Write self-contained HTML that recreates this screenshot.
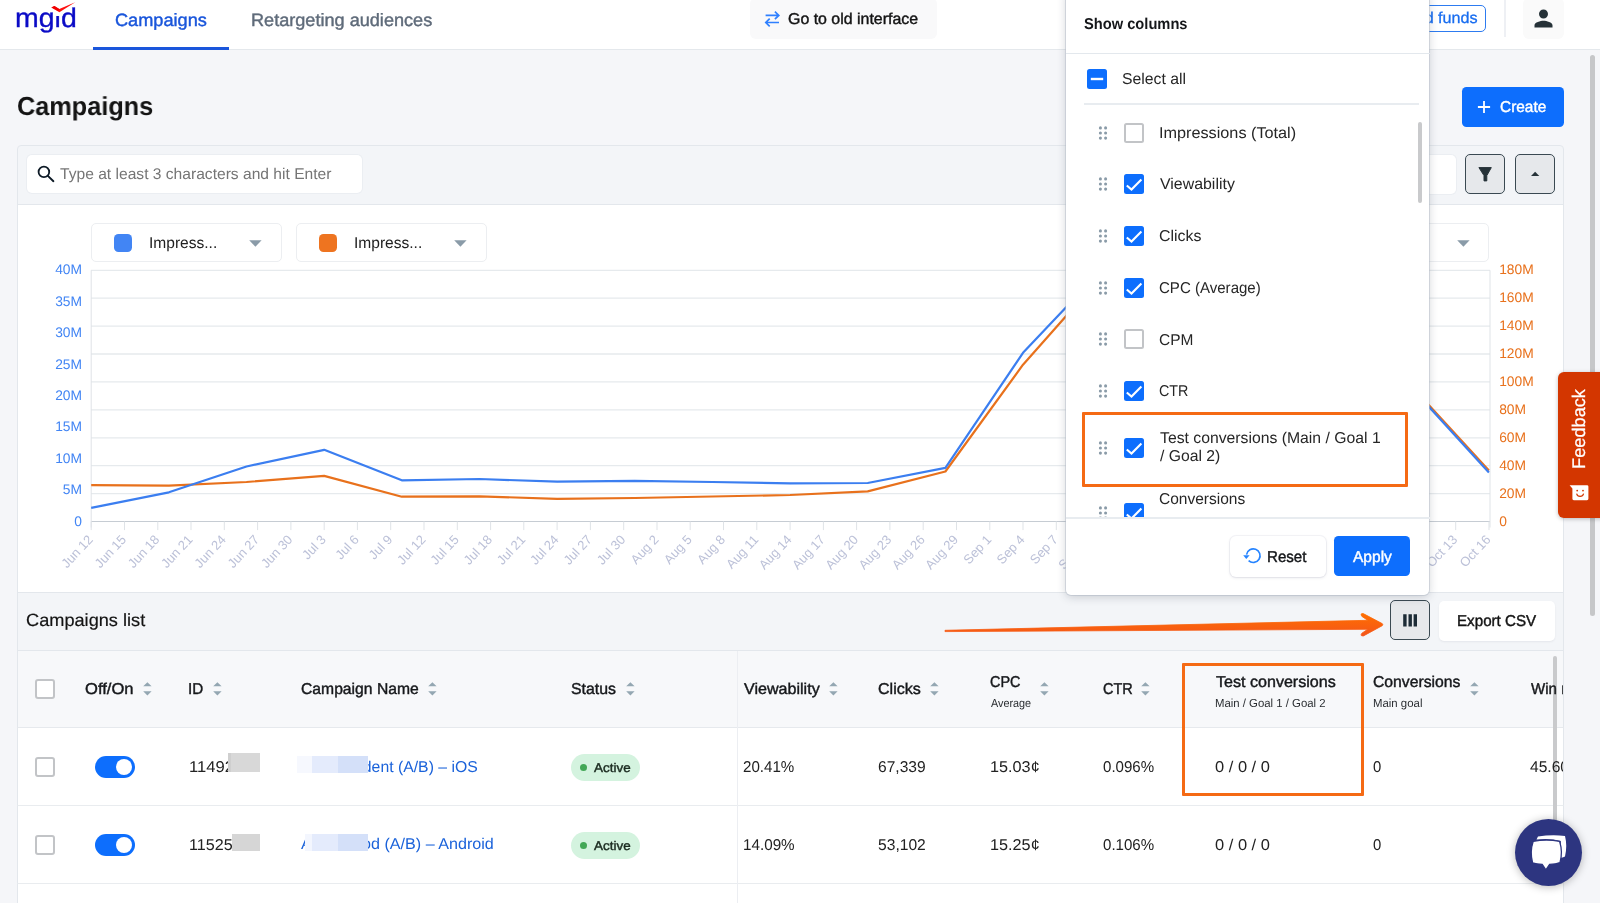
<!DOCTYPE html>
<html lang="en">
<head>
<meta charset="utf-8">
<title>Campaigns</title>
<style>
*{box-sizing:border-box;margin:0;padding:0}
html,body{width:1600px;height:903px;overflow:hidden;background:#f5f6f9;font-family:"Liberation Sans",Arial,sans-serif;color:#111;text-rendering:geometricPrecision}
.abs{position:absolute}
.tx{position:absolute;line-height:1;white-space:nowrap;transform-origin:0 0;text-rendering:geometricPrecision}
#root{position:relative;width:1600px;height:903px;overflow:hidden;will-change:transform}
#hdr{left:0;top:0;width:1600px;height:50.2px;background:#fff;border-bottom:1.4px solid #e4e8ec}
#tabline{left:93px;top:47.4px;width:136.3px;height:2.5px;background:#1a56db}
#logo{left:15px;top:1.6px;font-size:27px;line-height:32px;color:#0b0bc6;white-space:nowrap;transform-origin:0 0;transform:scaleX(1.055);-webkit-text-stroke:.35px #0b0bc6}
#oldbtn{left:750px;top:-2px;width:187px;height:41px;background:#f9f9fa;border-radius:6px}
#funds{left:1380px;top:5.3px;width:106.3px;height:26.4px;border:1px solid #2d7bf0;border-radius:5px;background:#fff}
#hdiv{left:1504px;top:0;width:2px;height:37px;background:#eef0f4}
#userbtn{left:1523.3px;top:-2px;width:40.7px;height:41px;background:#fafafa;border-radius:6px}
#create{left:1462px;top:86.9px;width:101.8px;height:39.9px;background:#0d6efd;border-radius:4.5px}
#fpanel{left:17px;top:145px;width:1547px;height:60px;background:#f3f5f8;border:1px solid #e3e7ec;border-radius:4px 4px 0 0}
#search{left:26.9px;top:154.7px;width:335.5px;height:38.6px;background:#fff;border-radius:5px;box-shadow:0 0 0 1px rgba(230,233,238,.6)}
#inp2{left:1380px;top:154.5px;width:76px;height:39px;background:#fff;border-radius:5px;box-shadow:0 0 0 1px rgba(230,233,238,.6)}
.sqbtn{width:40.3px;height:40.3px;background:#e6e8eb;border:1px solid #3a4952;border-radius:5px}
#cpanel{left:17px;top:204px;width:1547px;height:389px;background:#fff;border:1px solid #e3e7ec}
.sel{top:223.1px;height:39.3px;background:#fff;border:1px solid #eceef1;border-radius:5px}
.sel i{position:absolute;top:9.7px;width:18px;height:18px;border-radius:4.5px}
#lbar{left:17px;top:592px;width:1547px;height:59px;background:#f3f5f8;border:1px solid #e3e7ec}
#export{left:1439.3px;top:600.5px;width:116px;height:40px;background:#fff;border-radius:5px;box-shadow:0 1px 2px rgba(60,70,90,.08)}
#thead{left:17px;top:651px;width:1547px;height:77px;background:#f7f8fa;border-left:1px solid #e3e7ec;border-right:1px solid #e3e7ec;border-bottom:1px solid #e6e9ed}
.trow{left:17px;width:1547px;height:78px;background:#fff;border-left:1px solid #e3e7ec;border-right:1px solid #e3e7ec;border-bottom:1px solid #e9ecef}
#vdiv{left:736.5px;top:651px;width:1px;height:252px;background:#eceef2}
.cb{width:20px;height:20px;border:2px solid #c2c4c7;border-radius:3px;background:#fff}
.tog{left:94.7px;width:40px;height:22.2px;border-radius:11.1px;background:#0d6efd}
.tog i{position:absolute;right:3px;top:3.1px;width:16px;height:16px;border-radius:8px;background:#fff}
.badge{left:571px;width:69px;height:27px;border-radius:13.5px;background:#d4f3df}
.badge i{position:absolute;left:9px;top:10.1px;width:7.1px;height:7px;border-radius:4px;background:#43a857}
.srt{width:9px;height:14px}
.hl{border:3.6px solid #f56a14;border-radius:1px}
#pop{left:1065.7px;top:-10px;width:363.6px;height:604.6px;background:#fff;border-radius:5px;box-shadow:0 2px 10px rgba(40,50,70,.22),0 0 0 1px rgba(200,208,218,.55)}
.psep{background:#e3e8ed;height:1.5px}
.pcb{width:20px;height:20px;border-radius:2.5px}
.pcb.on{background:#0d6efd}
.pcb.off{border:2px solid #c2c4c7;background:#fff}
#plist{left:0;top:115px;width:364px;height:412.6px;overflow:hidden}
#reset{left:164px;top:546.3px;width:96.3px;height:40.4px;background:#fff;border-radius:6px;box-shadow:0 1px 3px rgba(60,70,90,.13),0 0 0 1px rgba(242,243,246,.8)}
#apply{left:268.6px;top:546.4px;width:75.6px;height:39.8px;background:#0d6efd;border-radius:4.5px}
</style>
</head>
<body>
<div id="root">
  <div id="hdr" class="abs"></div>
  <div id="logo" class="abs">mgid</div>
  <div class="abs" style="left:55px;top:4px;width:6px;height:11.6px;background:#fff"></div>
  <svg class="abs" style="left:48px;top:0" width="32" height="16" viewBox="0 0 32 16"><path d="M3.4 7.4 L6.4 6.1 L11.3 9.0 L27.2 2.3 L11.4 12.2 Z" fill="#ff1010"/><path d="M3.4 7.4 L6.4 6.1 L11.6 9.2 L10.2 10.9 Z" fill="#f00000"/></svg>
  <div id="tabline" class="abs"></div>
  <div id="oldbtn" class="abs"><svg class="abs" style="left:14px;top:11px" width="18" height="20" viewBox="0 0 18 20"><path d="M1.6 6.4 H14.6 M10.9 2.6 L14.8 6.4 L10.9 10.2 M15 13.5 H2 M5.7 9.7 L1.8 13.5 L5.7 17.3" fill="none" stroke="#2f80ff" stroke-width="1.7"/></svg></div>
  <div id="funds" class="abs"><div class="tx" style="right:8px;top:4.6px;font-size:15.7px;color:#1a6ef0;transform-origin:100% 0;transform:scaleX(1.03);-webkit-text-stroke:.3px #1a6ef0">Add funds</div></div>
  <div id="hdiv" class="abs"></div>
  <div id="userbtn" class="abs"><svg class="abs" style="left:6.95px;top:6.9px" width="27" height="27" viewBox="0 0 24 24"><path d="M12 12c2.21 0 4-1.79 4-4s-1.79-4-4-4-4 1.79-4 4 1.79 4 4 4zm0 2c-2.67 0-8 1.34-8 4v2h16v-2c0-2.660-5.330-4-8-4z" fill="#263238"/></svg></div>

  <div id="create" class="abs"><svg class="abs" style="left:15px;top:12.85px" width="14" height="14" viewBox="0 0 14 14"><path d="M7 0.9 V13.1 M0.9 7 H13.1" stroke="#fff" stroke-width="1.8" fill="none"/></svg></div>

  <div id="fpanel" class="abs"></div>
  <div id="search" class="abs"><svg class="abs" style="left:9.1px;top:9.3px" width="20" height="20" viewBox="0 0 20 20"><circle cx="7.9" cy="7.9" r="5.3" fill="none" stroke="#0d1a26" stroke-width="1.8"/><path d="M11.9 11.9 L17.4 17.2" stroke="#0d1a26" stroke-width="1.9" stroke-linecap="round"/></svg></div>
  <div id="inp2" class="abs"></div>
  <div class="abs sqbtn" style="left:1465px;top:154px"><svg class="abs" style="left:0;top:0" width="38" height="38" viewBox="0 0 38 38"><path d="M12.9 12.6 H25.3 L20.8 20.6 V25.9 H18.0 V20.6 Z" fill="#263238" stroke="#263238" stroke-width="1" stroke-linejoin="round"/></svg></div>
  <div class="abs sqbtn" style="left:1514.6px;top:154px"><svg class="abs" style="left:0;top:0" width="38" height="38" viewBox="0 0 38 38"><path d="M15 20.9 L19.15 16.8 L23.3 20.9 Z" fill="#263238"/></svg></div>

  <div id="cpanel" class="abs"></div>
<svg id="chart" class="abs" style="left:0;top:0" width="1600" height="903" viewBox="0 0 1600 903" font-family="Liberation Sans, Arial, sans-serif">
<line x1="91" x2="1490" y1="270.3" y2="270.3" stroke="#e6eaed" stroke-width="1.3"/>
<line x1="91" x2="1490" y1="298.2" y2="298.2" stroke="#e6eaed" stroke-width="1.3"/>
<line x1="91" x2="1490" y1="326.1" y2="326.1" stroke="#e6eaed" stroke-width="1.3"/>
<line x1="91" x2="1490" y1="354.0" y2="354.0" stroke="#e6eaed" stroke-width="1.3"/>
<line x1="91" x2="1490" y1="381.9" y2="381.9" stroke="#e6eaed" stroke-width="1.3"/>
<line x1="91" x2="1490" y1="409.9" y2="409.9" stroke="#e6eaed" stroke-width="1.3"/>
<line x1="91" x2="1490" y1="437.8" y2="437.8" stroke="#e6eaed" stroke-width="1.3"/>
<line x1="91" x2="1490" y1="465.7" y2="465.7" stroke="#e6eaed" stroke-width="1.3"/>
<line x1="91" x2="1490" y1="493.6" y2="493.6" stroke="#e6eaed" stroke-width="1.3"/>
<line x1="91" x2="1490" y1="521.5" y2="521.5" stroke="#c6ccd3" stroke-width="1"/>
<line x1="91.2" x2="91.2" y1="270.3" y2="527.5" stroke="#dfe3e7" stroke-width="1"/>
<line x1="1490" x2="1490" y1="270.3" y2="527.5" stroke="#dfe3e7" stroke-width="1"/>
<line x1="91.2" x2="91.2" y1="521.5" y2="530.1" stroke="#dfe3e7" stroke-width="1"/>
<text x="93.6" y="540.1" text-anchor="end" font-size="13" fill="#bcc1d8" transform="rotate(-47 93.6 540.1)">Jun 12</text>
<line x1="124.5" x2="124.5" y1="521.5" y2="530.1" stroke="#dfe3e7" stroke-width="1"/>
<text x="126.9" y="540.1" text-anchor="end" font-size="13" fill="#bcc1d8" transform="rotate(-47 126.9 540.1)">Jun 15</text>
<line x1="157.8" x2="157.8" y1="521.5" y2="530.1" stroke="#dfe3e7" stroke-width="1"/>
<text x="160.2" y="540.1" text-anchor="end" font-size="13" fill="#bcc1d8" transform="rotate(-47 160.2 540.1)">Jun 18</text>
<line x1="191.0" x2="191.0" y1="521.5" y2="530.1" stroke="#dfe3e7" stroke-width="1"/>
<text x="193.4" y="540.1" text-anchor="end" font-size="13" fill="#bcc1d8" transform="rotate(-47 193.4 540.1)">Jun 21</text>
<line x1="224.3" x2="224.3" y1="521.5" y2="530.1" stroke="#dfe3e7" stroke-width="1"/>
<text x="226.7" y="540.1" text-anchor="end" font-size="13" fill="#bcc1d8" transform="rotate(-47 226.7 540.1)">Jun 24</text>
<line x1="257.6" x2="257.6" y1="521.5" y2="530.1" stroke="#dfe3e7" stroke-width="1"/>
<text x="260.0" y="540.1" text-anchor="end" font-size="13" fill="#bcc1d8" transform="rotate(-47 260.0 540.1)">Jun 27</text>
<line x1="290.9" x2="290.9" y1="521.5" y2="530.1" stroke="#dfe3e7" stroke-width="1"/>
<text x="293.3" y="540.1" text-anchor="end" font-size="13" fill="#bcc1d8" transform="rotate(-47 293.3 540.1)">Jun 30</text>
<line x1="324.2" x2="324.2" y1="521.5" y2="530.1" stroke="#dfe3e7" stroke-width="1"/>
<text x="326.6" y="540.1" text-anchor="end" font-size="13" fill="#bcc1d8" transform="rotate(-47 326.6 540.1)">Jul 3</text>
<line x1="357.4" x2="357.4" y1="521.5" y2="530.1" stroke="#dfe3e7" stroke-width="1"/>
<text x="359.8" y="540.1" text-anchor="end" font-size="13" fill="#bcc1d8" transform="rotate(-47 359.8 540.1)">Jul 6</text>
<line x1="390.7" x2="390.7" y1="521.5" y2="530.1" stroke="#dfe3e7" stroke-width="1"/>
<text x="393.1" y="540.1" text-anchor="end" font-size="13" fill="#bcc1d8" transform="rotate(-47 393.1 540.1)">Jul 9</text>
<line x1="424.0" x2="424.0" y1="521.5" y2="530.1" stroke="#dfe3e7" stroke-width="1"/>
<text x="426.4" y="540.1" text-anchor="end" font-size="13" fill="#bcc1d8" transform="rotate(-47 426.4 540.1)">Jul 12</text>
<line x1="457.3" x2="457.3" y1="521.5" y2="530.1" stroke="#dfe3e7" stroke-width="1"/>
<text x="459.7" y="540.1" text-anchor="end" font-size="13" fill="#bcc1d8" transform="rotate(-47 459.7 540.1)">Jul 15</text>
<line x1="490.6" x2="490.6" y1="521.5" y2="530.1" stroke="#dfe3e7" stroke-width="1"/>
<text x="493.0" y="540.1" text-anchor="end" font-size="13" fill="#bcc1d8" transform="rotate(-47 493.0 540.1)">Jul 18</text>
<line x1="523.8" x2="523.8" y1="521.5" y2="530.1" stroke="#dfe3e7" stroke-width="1"/>
<text x="526.2" y="540.1" text-anchor="end" font-size="13" fill="#bcc1d8" transform="rotate(-47 526.2 540.1)">Jul 21</text>
<line x1="557.1" x2="557.1" y1="521.5" y2="530.1" stroke="#dfe3e7" stroke-width="1"/>
<text x="559.5" y="540.1" text-anchor="end" font-size="13" fill="#bcc1d8" transform="rotate(-47 559.5 540.1)">Jul 24</text>
<line x1="590.4" x2="590.4" y1="521.5" y2="530.1" stroke="#dfe3e7" stroke-width="1"/>
<text x="592.8" y="540.1" text-anchor="end" font-size="13" fill="#bcc1d8" transform="rotate(-47 592.8 540.1)">Jul 27</text>
<line x1="623.7" x2="623.7" y1="521.5" y2="530.1" stroke="#dfe3e7" stroke-width="1"/>
<text x="626.1" y="540.1" text-anchor="end" font-size="13" fill="#bcc1d8" transform="rotate(-47 626.1 540.1)">Jul 30</text>
<line x1="657.0" x2="657.0" y1="521.5" y2="530.1" stroke="#dfe3e7" stroke-width="1"/>
<text x="659.4" y="540.1" text-anchor="end" font-size="13" fill="#bcc1d8" transform="rotate(-47 659.4 540.1)">Aug 2</text>
<line x1="690.2" x2="690.2" y1="521.5" y2="530.1" stroke="#dfe3e7" stroke-width="1"/>
<text x="692.6" y="540.1" text-anchor="end" font-size="13" fill="#bcc1d8" transform="rotate(-47 692.6 540.1)">Aug 5</text>
<line x1="723.5" x2="723.5" y1="521.5" y2="530.1" stroke="#dfe3e7" stroke-width="1"/>
<text x="725.9" y="540.1" text-anchor="end" font-size="13" fill="#bcc1d8" transform="rotate(-47 725.9 540.1)">Aug 8</text>
<line x1="756.8" x2="756.8" y1="521.5" y2="530.1" stroke="#dfe3e7" stroke-width="1"/>
<text x="759.2" y="540.1" text-anchor="end" font-size="13" fill="#bcc1d8" transform="rotate(-47 759.2 540.1)">Aug 11</text>
<line x1="790.1" x2="790.1" y1="521.5" y2="530.1" stroke="#dfe3e7" stroke-width="1"/>
<text x="792.5" y="540.1" text-anchor="end" font-size="13" fill="#bcc1d8" transform="rotate(-47 792.5 540.1)">Aug 14</text>
<line x1="823.4" x2="823.4" y1="521.5" y2="530.1" stroke="#dfe3e7" stroke-width="1"/>
<text x="825.8" y="540.1" text-anchor="end" font-size="13" fill="#bcc1d8" transform="rotate(-47 825.8 540.1)">Aug 17</text>
<line x1="856.6" x2="856.6" y1="521.5" y2="530.1" stroke="#dfe3e7" stroke-width="1"/>
<text x="859.0" y="540.1" text-anchor="end" font-size="13" fill="#bcc1d8" transform="rotate(-47 859.0 540.1)">Aug 20</text>
<line x1="889.9" x2="889.9" y1="521.5" y2="530.1" stroke="#dfe3e7" stroke-width="1"/>
<text x="892.3" y="540.1" text-anchor="end" font-size="13" fill="#bcc1d8" transform="rotate(-47 892.3 540.1)">Aug 23</text>
<line x1="923.2" x2="923.2" y1="521.5" y2="530.1" stroke="#dfe3e7" stroke-width="1"/>
<text x="925.6" y="540.1" text-anchor="end" font-size="13" fill="#bcc1d8" transform="rotate(-47 925.6 540.1)">Aug 26</text>
<line x1="956.5" x2="956.5" y1="521.5" y2="530.1" stroke="#dfe3e7" stroke-width="1"/>
<text x="958.9" y="540.1" text-anchor="end" font-size="13" fill="#bcc1d8" transform="rotate(-47 958.9 540.1)">Aug 29</text>
<line x1="989.8" x2="989.8" y1="521.5" y2="530.1" stroke="#dfe3e7" stroke-width="1"/>
<text x="992.2" y="540.1" text-anchor="end" font-size="13" fill="#bcc1d8" transform="rotate(-47 992.2 540.1)">Sep 1</text>
<line x1="1023.0" x2="1023.0" y1="521.5" y2="530.1" stroke="#dfe3e7" stroke-width="1"/>
<text x="1025.4" y="540.1" text-anchor="end" font-size="13" fill="#bcc1d8" transform="rotate(-47 1025.4 540.1)">Sep 4</text>
<line x1="1056.3" x2="1056.3" y1="521.5" y2="530.1" stroke="#dfe3e7" stroke-width="1"/>
<text x="1058.7" y="540.1" text-anchor="end" font-size="13" fill="#bcc1d8" transform="rotate(-47 1058.7 540.1)">Sep 7</text>
<line x1="1089.6" x2="1089.6" y1="521.5" y2="530.1" stroke="#dfe3e7" stroke-width="1"/>
<text x="1092.0" y="540.1" text-anchor="end" font-size="13" fill="#bcc1d8" transform="rotate(-47 1092.0 540.1)">Sep 10</text>
<line x1="1122.9" x2="1122.9" y1="521.5" y2="530.1" stroke="#dfe3e7" stroke-width="1"/>
<text x="1125.3" y="540.1" text-anchor="end" font-size="13" fill="#bcc1d8" transform="rotate(-47 1125.3 540.1)">Sep 13</text>
<line x1="1156.2" x2="1156.2" y1="521.5" y2="530.1" stroke="#dfe3e7" stroke-width="1"/>
<text x="1158.6" y="540.1" text-anchor="end" font-size="13" fill="#bcc1d8" transform="rotate(-47 1158.6 540.1)">Sep 16</text>
<line x1="1189.4" x2="1189.4" y1="521.5" y2="530.1" stroke="#dfe3e7" stroke-width="1"/>
<text x="1191.8" y="540.1" text-anchor="end" font-size="13" fill="#bcc1d8" transform="rotate(-47 1191.8 540.1)">Sep 19</text>
<line x1="1222.7" x2="1222.7" y1="521.5" y2="530.1" stroke="#dfe3e7" stroke-width="1"/>
<text x="1225.1" y="540.1" text-anchor="end" font-size="13" fill="#bcc1d8" transform="rotate(-47 1225.1 540.1)">Sep 22</text>
<line x1="1256.0" x2="1256.0" y1="521.5" y2="530.1" stroke="#dfe3e7" stroke-width="1"/>
<text x="1258.4" y="540.1" text-anchor="end" font-size="13" fill="#bcc1d8" transform="rotate(-47 1258.4 540.1)">Sep 25</text>
<line x1="1289.3" x2="1289.3" y1="521.5" y2="530.1" stroke="#dfe3e7" stroke-width="1"/>
<text x="1291.7" y="540.1" text-anchor="end" font-size="13" fill="#bcc1d8" transform="rotate(-47 1291.7 540.1)">Sep 28</text>
<line x1="1322.6" x2="1322.6" y1="521.5" y2="530.1" stroke="#dfe3e7" stroke-width="1"/>
<text x="1325.0" y="540.1" text-anchor="end" font-size="13" fill="#bcc1d8" transform="rotate(-47 1325.0 540.1)">Oct 1</text>
<line x1="1355.8" x2="1355.8" y1="521.5" y2="530.1" stroke="#dfe3e7" stroke-width="1"/>
<text x="1358.2" y="540.1" text-anchor="end" font-size="13" fill="#bcc1d8" transform="rotate(-47 1358.2 540.1)">Oct 4</text>
<line x1="1389.1" x2="1389.1" y1="521.5" y2="530.1" stroke="#dfe3e7" stroke-width="1"/>
<text x="1391.5" y="540.1" text-anchor="end" font-size="13" fill="#bcc1d8" transform="rotate(-47 1391.5 540.1)">Oct 7</text>
<line x1="1422.4" x2="1422.4" y1="521.5" y2="530.1" stroke="#dfe3e7" stroke-width="1"/>
<text x="1424.8" y="540.1" text-anchor="end" font-size="13" fill="#bcc1d8" transform="rotate(-47 1424.8 540.1)">Oct 10</text>
<line x1="1455.7" x2="1455.7" y1="521.5" y2="530.1" stroke="#dfe3e7" stroke-width="1"/>
<text x="1458.1" y="540.1" text-anchor="end" font-size="13" fill="#bcc1d8" transform="rotate(-47 1458.1 540.1)">Oct 13</text>
<line x1="1489.0" x2="1489.0" y1="521.5" y2="530.1" stroke="#dfe3e7" stroke-width="1"/>
<text x="1491.4" y="540.1" text-anchor="end" font-size="13" fill="#bcc1d8" transform="rotate(-47 1491.4 540.1)">Oct 16</text>
<text x="82" y="274.3" text-anchor="end" font-size="13.8" fill="#4285f4">40M</text>
<text x="82" y="305.7" text-anchor="end" font-size="13.8" fill="#4285f4">35M</text>
<text x="82" y="337.1" text-anchor="end" font-size="13.8" fill="#4285f4">30M</text>
<text x="82" y="368.5" text-anchor="end" font-size="13.8" fill="#4285f4">25M</text>
<text x="82" y="399.9" text-anchor="end" font-size="13.8" fill="#4285f4">20M</text>
<text x="82" y="431.3" text-anchor="end" font-size="13.8" fill="#4285f4">15M</text>
<text x="82" y="462.7" text-anchor="end" font-size="13.8" fill="#4285f4">10M</text>
<text x="82" y="494.1" text-anchor="end" font-size="13.8" fill="#4285f4">5M</text>
<text x="82" y="525.5" text-anchor="end" font-size="13.8" fill="#4285f4">0</text>
<text x="1499.2" y="274.3" font-size="13.8" fill="#e8711c">180M</text>
<text x="1499.2" y="302.2" font-size="13.8" fill="#e8711c">160M</text>
<text x="1499.2" y="330.1" font-size="13.8" fill="#e8711c">140M</text>
<text x="1499.2" y="358.0" font-size="13.8" fill="#e8711c">120M</text>
<text x="1499.2" y="385.9" font-size="13.8" fill="#e8711c">100M</text>
<text x="1499.2" y="413.9" font-size="13.8" fill="#e8711c">80M</text>
<text x="1499.2" y="441.8" font-size="13.8" fill="#e8711c">60M</text>
<text x="1499.2" y="469.7" font-size="13.8" fill="#e8711c">40M</text>
<text x="1499.2" y="497.6" font-size="13.8" fill="#e8711c">20M</text>
<text x="1499.2" y="525.5" font-size="13.8" fill="#e8711c">0</text>
<polyline points="91.2,485.2 168.9,485.6 246.5,482.0 324.2,475.9 401.8,496.7 479.4,496.3 557.1,498.9 634.8,498.0 712.4,496.5 790.1,495.0 867.7,491.4 945.4,471.5 1023.0,364.7 1100.7,276.9 1178.3,305.0 1256.0,333.0 1333.6,356.0 1411.3,386.0 1488.9,470.5" fill="none" stroke="#e8711c" stroke-width="2.2" stroke-linejoin="round"/>
<polyline points="91.2,507.8 168.9,492.3 246.5,466.5 324.2,449.8 401.8,480.3 479.4,479.0 557.1,481.7 634.8,480.8 712.4,482.0 790.1,483.4 867.7,483.0 945.4,467.9 1023.0,352.8 1100.7,270.8 1178.3,300.0 1256.0,330.0 1333.6,355.0 1411.3,387.5 1488.9,472.5" fill="none" stroke="#3b7ef0" stroke-width="2.2" stroke-linejoin="round"/>
</svg>
  <div class="abs sel" style="left:91.3px;width:190.4px"><i style="left:21.4px;background:#4285f4"></i><svg style="position:absolute;left:156.7px;top:16px" width="13" height="7" viewBox="0 0 13 7"><path d="M0.2 0.2 H12.6 L6.4 6.8 Z" fill="#8a9ba8"/></svg></div>
  <div class="abs sel" style="left:296.3px;width:190.4px"><i style="left:21.4px;background:#ee7420"></i><svg style="position:absolute;left:156.7px;top:16px" width="13" height="7" viewBox="0 0 13 7"><path d="M0.2 0.2 H12.6 L6.4 6.8 Z" fill="#8a9ba8"/></svg></div>
  <div class="abs sel" style="left:1299px;width:190.4px"><svg style="position:absolute;left:156.7px;top:16px" width="13" height="7" viewBox="0 0 13 7"><path d="M0.2 0.2 H12.6 L6.4 6.8 Z" fill="#8a9ba8"/></svg></div>

  <div id="lbar" class="abs"></div>
  <div class="abs sqbtn" style="left:1389.8px;top:600.2px"><svg class="abs" style="left:0;top:0" width="38" height="38" viewBox="0 0 38 38"><path d="M12.2 13.2h3.4v12.4h-3.4z M17.5 13.2h3.4v12.4h-3.4z M22.6 13.2h3.4v12.4h-3.4z" fill="#1c2b36"/></svg></div>
  <div id="export" class="abs"></div>

  <div id="thead" class="abs"></div>
  <div class="abs trow" style="top:728px"></div>
  <div class="abs trow" style="top:806px"></div>
  <div class="abs trow" style="top:884px"></div>
  <div id="vdiv" class="abs"></div>
  <div class="abs cb" style="left:35px;top:679.2px"></div>
  <div class="abs cb" style="left:35px;top:757px"></div>
  <div class="abs cb" style="left:35px;top:834.8px"></div>
  <svg class="abs srt" style="left:142.6px;top:682.3px" viewBox="0 0 9 14"><path d="M0.2 4.3 L4.4 0.2 L8.6 4.3Z M0.2 9.3 L4.4 13.4 L8.6 9.3Z" fill="#94a7b2"/></svg>
  <svg class="abs srt" style="left:212.5px;top:682.3px" viewBox="0 0 9 14"><path d="M0.2 4.3 L4.4 0.2 L8.6 4.3Z M0.2 9.3 L4.4 13.4 L8.6 9.3Z" fill="#94a7b2"/></svg>
  <svg class="abs srt" style="left:427.8px;top:682.3px" viewBox="0 0 9 14"><path d="M0.2 4.3 L4.4 0.2 L8.6 4.3Z M0.2 9.3 L4.4 13.4 L8.6 9.3Z" fill="#94a7b2"/></svg>
  <svg class="abs srt" style="left:625.6px;top:682.3px" viewBox="0 0 9 14"><path d="M0.2 4.3 L4.4 0.2 L8.6 4.3Z M0.2 9.3 L4.4 13.4 L8.6 9.3Z" fill="#94a7b2"/></svg>
  <svg class="abs srt" style="left:828.8px;top:682.3px" viewBox="0 0 9 14"><path d="M0.2 4.3 L4.4 0.2 L8.6 4.3Z M0.2 9.3 L4.4 13.4 L8.6 9.3Z" fill="#94a7b2"/></svg>
  <svg class="abs srt" style="left:930px;top:682.3px" viewBox="0 0 9 14"><path d="M0.2 4.3 L4.4 0.2 L8.6 4.3Z M0.2 9.3 L4.4 13.4 L8.6 9.3Z" fill="#94a7b2"/></svg>
  <svg class="abs srt" style="left:1040.1px;top:682.3px" viewBox="0 0 9 14"><path d="M0.2 4.3 L4.4 0.2 L8.6 4.3Z M0.2 9.3 L4.4 13.4 L8.6 9.3Z" fill="#94a7b2"/></svg>
  <svg class="abs srt" style="left:1141px;top:682.3px" viewBox="0 0 9 14"><path d="M0.2 4.3 L4.4 0.2 L8.6 4.3Z M0.2 9.3 L4.4 13.4 L8.6 9.3Z" fill="#94a7b2"/></svg>
  <svg class="abs srt" style="left:1469.9px;top:682.3px" viewBox="0 0 9 14"><path d="M0.2 4.3 L4.4 0.2 L8.6 4.3Z M0.2 9.3 L4.4 13.4 L8.6 9.3Z" fill="#94a7b2"/></svg>
  <div class="abs tog" style="top:755.7px"><i></i></div>
  <div class="abs tog" style="top:833.5px"><i></i></div>
  <div class="abs badge" style="top:753.9px"><i></i></div>
  <div class="abs badge" style="top:831.9px"><i></i></div>
  <div class="abs" style="left:1553.1px;top:655.5px;width:4px;height:190px;border-radius:2px;background:#c9cacc"></div>
<div class="tx" style="left:115.38px;top:12.00px;font-size:17.8px;color:#1a56db;transform:scaleX(1.0215);-webkit-text-stroke:0.42px #1a56db">Campaigns</div>
<div class="tx" style="left:251.03px;top:12.00px;font-size:17.8px;color:#5f6b7a;transform:scaleX(1.0184);-webkit-text-stroke:0.42px #5f6b7a">Retargeting audiences</div>
<div class="tx" style="left:788.29px;top:12.00px;font-size:15.7px;color:#141414;transform:scaleX(1.0146);-webkit-text-stroke:0.42px #141414">Go to old interface</div>
<div class="tx" style="left:17.12px;top:93.00px;font-size:26px;color:#141414;transform:scaleX(0.9717);font-weight:bold">Campaigns</div>
<div class="tx" style="left:1499.72px;top:100.00px;font-size:15.7px;color:#fff;transform:scaleX(0.9821);-webkit-text-stroke:0.42px #fff">Create</div>
<div class="tx" style="left:59.56px;top:167.00px;font-size:15.5px;color:#757575;transform:scaleX(1.0067)">Type at least 3 characters and hit Enter</div>
<div class="tx" style="left:148.86px;top:236.00px;font-size:15.7px;color:#212121;transform:scaleX(0.9909)">Impress...</div>
<div class="tx" style="left:353.86px;top:236.00px;font-size:15.7px;color:#212121;transform:scaleX(0.9909)">Impress...</div>
<div class="tx" style="left:25.78px;top:612.00px;font-size:17.7px;color:#141414;transform:scaleX(1.0277);-webkit-text-stroke:0.2px #141414">Campaigns list</div>
<div class="tx" style="left:1457.18px;top:614.00px;font-size:15.7px;color:#141414;transform:scaleX(0.9665);-webkit-text-stroke:0.42px #141414">Export CSV</div>
<div class="tx" style="left:85.14px;top:682.00px;font-size:15.7px;color:#16181b;transform:scaleX(1.0557);-webkit-text-stroke:0.42px #16181b">Off/On</div>
<div class="tx" style="left:188.38px;top:682.00px;font-size:15.7px;color:#16181b;transform:scaleX(0.9720);-webkit-text-stroke:0.42px #16181b">ID</div>
<div class="tx" style="left:301.11px;top:682.00px;font-size:15.7px;color:#16181b;transform:scaleX(1.0003);-webkit-text-stroke:0.42px #16181b">Campaign Name</div>
<div class="tx" style="left:571.05px;top:682.00px;font-size:15.7px;color:#16181b;transform:scaleX(1.0111);-webkit-text-stroke:0.42px #16181b">Status</div>
<div class="tx" style="left:743.60px;top:682.00px;font-size:15.7px;color:#16181b;transform:scaleX(1.0250);-webkit-text-stroke:0.42px #16181b">Viewability</div>
<div class="tx" style="left:878.00px;top:682.00px;font-size:15.7px;color:#16181b;transform:scaleX(1.0236);-webkit-text-stroke:0.42px #16181b">Clicks</div>
<div class="tx" style="left:990.25px;top:675.00px;font-size:15.7px;color:#16181b;transform:scaleX(0.9211);-webkit-text-stroke:0.42px #16181b">CPC</div>
<div class="tx" style="left:990.59px;top:698.00px;font-size:11.6px;color:#2a2d31;transform:scaleX(0.9323)">Average</div>
<div class="tx" style="left:1102.75px;top:682.00px;font-size:15.7px;color:#16181b;transform:scaleX(0.9224);-webkit-text-stroke:0.42px #16181b">CTR</div>
<div class="tx" style="left:1215.66px;top:675.00px;font-size:15.7px;color:#16181b;transform:scaleX(1.0250);-webkit-text-stroke:0.42px #16181b">Test conversions</div>
<div class="tx" style="left:1214.88px;top:698.00px;font-size:11.6px;color:#2a2d31;transform:scaleX(0.9803)">Main / Goal 1 / Goal 2</div>
<div class="tx" style="left:1373.01px;top:675.00px;font-size:15.7px;color:#16181b;transform:scaleX(1.0028);-webkit-text-stroke:0.42px #16181b">Conversions</div>
<div class="tx" style="left:1372.68px;top:698.00px;font-size:11.6px;color:#2a2d31;transform:scaleX(0.9829)">Main goal</div>
<div class="abs" style="left:1530.70px;top:680.00px;width:32.6px;height:21.7px;overflow:hidden"><div class="tx" style="left:0;top:2px;font-size:15.7px;color:#16181b;transform:scaleX(0.9611);-webkit-text-stroke:0.42px #16181b">Win rate</div></div>
<div class="tx" style="left:188.79px;top:760.00px;font-size:15.7px;color:#222;transform:scaleX(1.0580)">11492</div>
<div class="tx" style="left:742.93px;top:760.00px;font-size:15.7px;color:#222;transform:scaleX(0.9643)">20.41%</div>
<div class="tx" style="left:877.78px;top:760.00px;font-size:15.7px;color:#222;transform:scaleX(0.9934)">67,339</div>
<div class="tx" style="left:989.92px;top:760.00px;font-size:15.7px;color:#222;transform:scaleX(1.0349)">15.03¢</div>
<div class="tx" style="left:1102.70px;top:760.00px;font-size:15.7px;color:#222;transform:scaleX(0.9611)">0.096%</div>
<div class="tx" style="left:1215.25px;top:760.00px;font-size:15.7px;color:#222;transform:scaleX(1.0498)">0 / 0 / 0</div>
<div class="tx" style="left:1372.81px;top:760.00px;font-size:15.7px;color:#222;transform:scaleX(0.9487)">0</div>
<div class="tx" style="left:188.82px;top:838.00px;font-size:15.7px;color:#222;transform:scaleX(1.0280)">11525</div>
<div class="tx" style="left:742.58px;top:838.00px;font-size:15.7px;color:#222;transform:scaleX(0.9709)">14.09%</div>
<div class="tx" style="left:877.68px;top:838.00px;font-size:15.7px;color:#222;transform:scaleX(0.9959)">53,102</div>
<div class="tx" style="left:989.92px;top:838.00px;font-size:15.7px;color:#222;transform:scaleX(1.0349)">15.25¢</div>
<div class="tx" style="left:1102.70px;top:838.00px;font-size:15.7px;color:#222;transform:scaleX(0.9611)">0.106%</div>
<div class="tx" style="left:1215.25px;top:838.00px;font-size:15.7px;color:#222;transform:scaleX(1.0498)">0 / 0 / 0</div>
<div class="tx" style="left:1372.81px;top:838.00px;font-size:15.7px;color:#222;transform:scaleX(0.9487)">0</div>
<div class="abs" style="left:1530.28px;top:758.00px;width:32.6px;height:21.7px;overflow:hidden"><div class="tx" style="left:0;top:2px;font-size:15.7px;color:#222;transform:scaleX(0.9940)">45.60%</div></div>
<div class="tx" style="left:332.58px;top:760.00px;font-size:15.7px;color:#1a62da;transform:scaleX(1.0063)">Accident (A/B) – iOS</div>
<div class="tx" style="left:301.48px;top:837.00px;font-size:15.7px;color:#1a62da;transform:scaleX(1.0285)">Art Method (A/B) – Android</div>
<div class="tx" style="left:594.10px;top:762.00px;font-size:12.6px;color:#1b2b20;transform:scaleX(1.0676);-webkit-text-stroke:0.42px #1b2b20">Active</div>
<div class="tx" style="left:594.10px;top:840.00px;font-size:12.6px;color:#1b2b20;transform:scaleX(1.0676);-webkit-text-stroke:0.42px #1b2b20">Active</div>

  <div class="abs" style="left:228.1px;top:753.2px;width:31.7px;height:19.2px;background:linear-gradient(90deg,#cfcfcf 0 3.5px,#d8d8d8 3.5px)"></div>
  <div class="abs" style="left:232px;top:834.1px;width:27.8px;height:16.7px;background:#d6d6d6"></div>
  <div class="abs" style="left:297px;top:756.2px;width:70.8px;height:16.6px;background:linear-gradient(90deg,#f6f8fe 0 15px,#e4ebfc 15px 40.8px,#d4e0f9 40.8px)"></div>
  <div class="abs" style="left:304.8px;top:834px;width:63px;height:17px;background:linear-gradient(90deg,#f3f6fe 0 7px,#e4ebfc 7px 33.1px,#d4e0f9 33.1px)"></div>

  <div class="abs hl" style="left:1181.8px;top:662.8px;width:182px;height:133.6px"></div>

  <div id="pop" class="abs">
    <div class="abs psep" style="left:0;top:62.5px;width:364px"></div>
    <div class="abs pcb on" style="left:21.8px;top:78.8px"><svg width="20" height="20" viewBox="0 0 20 20"><path d="M3.8 10 H16.2" stroke="#fff" stroke-width="2.4" fill="none"/></svg></div>
    <div class="abs psep" style="left:18px;top:113.4px;width:335px;background:#e8ecf0"></div>
    <div id="plist" class="abs">
      <svg class="abs" style="left:32.3px;top:19.7px" width="10" height="16" viewBox="0 0 10 16"><circle cx="2.4" cy="2.9" r="1.55" fill="#8a9ba8"/><circle cx="2.4" cy="8" r="1.55" fill="#8a9ba8"/><circle cx="2.4" cy="13.1" r="1.55" fill="#8a9ba8"/><circle cx="7.6" cy="2.9" r="1.55" fill="#8a9ba8"/><circle cx="7.6" cy="8" r="1.55" fill="#8a9ba8"/><circle cx="7.6" cy="13.1" r="1.55" fill="#8a9ba8"/></svg><div class="abs pcb off" style="left:58.7px;top:17.7px"></div>
      <svg class="abs" style="left:32.3px;top:71.2px" width="10" height="16" viewBox="0 0 10 16"><circle cx="2.4" cy="2.9" r="1.55" fill="#8a9ba8"/><circle cx="2.4" cy="8" r="1.55" fill="#8a9ba8"/><circle cx="2.4" cy="13.1" r="1.55" fill="#8a9ba8"/><circle cx="7.6" cy="2.9" r="1.55" fill="#8a9ba8"/><circle cx="7.6" cy="8" r="1.55" fill="#8a9ba8"/><circle cx="7.6" cy="13.1" r="1.55" fill="#8a9ba8"/></svg><div class="abs pcb on" style="left:58.7px;top:69.2px"><svg width="20" height="20" viewBox="0 0 20 20"><path d="M2.8 11.5 L7.5 15.6 L17.4 5.5" fill="none" stroke="#fff" stroke-width="2.1"/></svg></div>
      <svg class="abs" style="left:32.3px;top:123.0px" width="10" height="16" viewBox="0 0 10 16"><circle cx="2.4" cy="2.9" r="1.55" fill="#8a9ba8"/><circle cx="2.4" cy="8" r="1.55" fill="#8a9ba8"/><circle cx="2.4" cy="13.1" r="1.55" fill="#8a9ba8"/><circle cx="7.6" cy="2.9" r="1.55" fill="#8a9ba8"/><circle cx="7.6" cy="8" r="1.55" fill="#8a9ba8"/><circle cx="7.6" cy="13.1" r="1.55" fill="#8a9ba8"/></svg><div class="abs pcb on" style="left:58.7px;top:121.0px"><svg width="20" height="20" viewBox="0 0 20 20"><path d="M2.8 11.5 L7.5 15.6 L17.4 5.5" fill="none" stroke="#fff" stroke-width="2.1"/></svg></div>
      <svg class="abs" style="left:32.3px;top:174.7px" width="10" height="16" viewBox="0 0 10 16"><circle cx="2.4" cy="2.9" r="1.55" fill="#8a9ba8"/><circle cx="2.4" cy="8" r="1.55" fill="#8a9ba8"/><circle cx="2.4" cy="13.1" r="1.55" fill="#8a9ba8"/><circle cx="7.6" cy="2.9" r="1.55" fill="#8a9ba8"/><circle cx="7.6" cy="8" r="1.55" fill="#8a9ba8"/><circle cx="7.6" cy="13.1" r="1.55" fill="#8a9ba8"/></svg><div class="abs pcb on" style="left:58.7px;top:172.7px"><svg width="20" height="20" viewBox="0 0 20 20"><path d="M2.8 11.5 L7.5 15.6 L17.4 5.5" fill="none" stroke="#fff" stroke-width="2.1"/></svg></div>
      <svg class="abs" style="left:32.3px;top:226.4px" width="10" height="16" viewBox="0 0 10 16"><circle cx="2.4" cy="2.9" r="1.55" fill="#8a9ba8"/><circle cx="2.4" cy="8" r="1.55" fill="#8a9ba8"/><circle cx="2.4" cy="13.1" r="1.55" fill="#8a9ba8"/><circle cx="7.6" cy="2.9" r="1.55" fill="#8a9ba8"/><circle cx="7.6" cy="8" r="1.55" fill="#8a9ba8"/><circle cx="7.6" cy="13.1" r="1.55" fill="#8a9ba8"/></svg><div class="abs pcb off" style="left:58.7px;top:224.4px"></div>
      <svg class="abs" style="left:32.3px;top:278.1px" width="10" height="16" viewBox="0 0 10 16"><circle cx="2.4" cy="2.9" r="1.55" fill="#8a9ba8"/><circle cx="2.4" cy="8" r="1.55" fill="#8a9ba8"/><circle cx="2.4" cy="13.1" r="1.55" fill="#8a9ba8"/><circle cx="7.6" cy="2.9" r="1.55" fill="#8a9ba8"/><circle cx="7.6" cy="8" r="1.55" fill="#8a9ba8"/><circle cx="7.6" cy="13.1" r="1.55" fill="#8a9ba8"/></svg><div class="abs pcb on" style="left:58.7px;top:276.1px"><svg width="20" height="20" viewBox="0 0 20 20"><path d="M2.8 11.5 L7.5 15.6 L17.4 5.5" fill="none" stroke="#fff" stroke-width="2.1"/></svg></div>
      <svg class="abs" style="left:32.3px;top:334.7px" width="10" height="16" viewBox="0 0 10 16"><circle cx="2.4" cy="2.9" r="1.55" fill="#8a9ba8"/><circle cx="2.4" cy="8" r="1.55" fill="#8a9ba8"/><circle cx="2.4" cy="13.1" r="1.55" fill="#8a9ba8"/><circle cx="7.6" cy="2.9" r="1.55" fill="#8a9ba8"/><circle cx="7.6" cy="8" r="1.55" fill="#8a9ba8"/><circle cx="7.6" cy="13.1" r="1.55" fill="#8a9ba8"/></svg><div class="abs pcb on" style="left:58.7px;top:332.7px"><svg width="20" height="20" viewBox="0 0 20 20"><path d="M2.8 11.5 L7.5 15.6 L17.4 5.5" fill="none" stroke="#fff" stroke-width="2.1"/></svg></div>
      <svg class="abs" style="left:32.3px;top:399.6px" width="10" height="16" viewBox="0 0 10 16"><circle cx="2.4" cy="2.9" r="1.55" fill="#8a9ba8"/><circle cx="2.4" cy="8" r="1.55" fill="#8a9ba8"/><circle cx="2.4" cy="13.1" r="1.55" fill="#8a9ba8"/><circle cx="7.6" cy="2.9" r="1.55" fill="#8a9ba8"/><circle cx="7.6" cy="8" r="1.55" fill="#8a9ba8"/><circle cx="7.6" cy="13.1" r="1.55" fill="#8a9ba8"/></svg><div class="abs pcb on" style="left:58.7px;top:397.6px"><svg width="20" height="20" viewBox="0 0 20 20"><path d="M2.8 11.5 L7.5 15.6 L17.4 5.5" fill="none" stroke="#fff" stroke-width="2.1"/></svg></div>
    </div>
    <div class="abs" style="left:352.5px;top:131.5px;width:3.7px;height:81.5px;border-radius:2px;background:#c9cacc"></div>
    <div class="abs psep" style="left:0;top:527.4px;width:364px;background:#e8ecf0"></div>
    <div id="reset" class="abs"><svg class="abs" style="left:11.3px;top:10px" width="22" height="20" viewBox="0 0 22 20"><path d="M5.55 8.6 A6.8 6.8 0 1 1 7.6 14.6" fill="none" stroke="#2684ff" stroke-width="1.6"/><path d="M2.2 9.2 H8.6 L5.3 13 Z" fill="#2684ff"/></svg></div>
    <div id="apply" class="abs"></div>
    <div class="abs hl" style="left:16.6px;top:422.4px;width:326.2px;height:74.5px"></div>
  </div>
<div class="tx" style="left:1083.78px;top:17.00px;font-size:15.7px;color:#15171a;transform:scaleX(0.9353);font-weight:bold">Show columns</div>
<div class="tx" style="left:1121.74px;top:72.00px;font-size:15.7px;color:#262626;transform:scaleX(1.0048)">Select all</div>
<div class="tx" style="left:1158.71px;top:126.00px;font-size:15.7px;color:#262626;transform:scaleX(1.0349)">Impressions (Total)</div>
<div class="tx" style="left:1159.79px;top:177.00px;font-size:15.7px;color:#262626;transform:scaleX(1.0138)">Viewability</div>
<div class="tx" style="left:1159.36px;top:229.00px;font-size:15.7px;color:#262626;transform:scaleX(1.0138)">Clicks</div>
<div class="tx" style="left:1159.40px;top:281.00px;font-size:15.7px;color:#262626;transform:scaleX(0.9592)">CPC (Average)</div>
<div class="tx" style="left:1159.38px;top:333.00px;font-size:15.7px;color:#262626;transform:scaleX(0.9859)">CPM</div>
<div class="tx" style="left:1159.43px;top:384.00px;font-size:15.7px;color:#262626;transform:scaleX(0.9132)">CTR</div>
<div class="tx" style="left:1159.76px;top:431.00px;font-size:15.7px;color:#262626;transform:scaleX(1.0043)">Test conversions (Main / Goal 1</div>
<div class="tx" style="left:1159.61px;top:449.00px;font-size:15.7px;color:#262626;transform:scaleX(1.0029)">/ Goal 2)</div>
<div class="tx" style="left:1159.48px;top:492.00px;font-size:15.7px;color:#262626;transform:scaleX(0.9893)">Conversions</div>
<div class="tx" style="left:1267.48px;top:550.00px;font-size:15.7px;color:#15171a;transform:scaleX(0.9632);-webkit-text-stroke:0.42px #15171a">Reset</div>
<div class="tx" style="left:1352.90px;top:550.00px;font-size:15.7px;color:#fff;transform:scaleX(0.9903);-webkit-text-stroke:0.42px #fff">Apply</div>


  <svg class="abs" style="left:940.2px;top:605px" width="448.6" height="40" viewBox="940 605 450 40" preserveAspectRatio="none"><defs><linearGradient id="ag" x1="0" y1="0" x2="0" y2="1"><stop offset="0" stop-color="#ff6f00"/><stop offset="1" stop-color="#f4551a"/></linearGradient></defs><path d="M945 630.3 L1369 620.3 L1363.2 616.4 Q1361 613.2 1364.6 613.6 L1383.6 623.6 Q1384.8 624.7 1383.6 625.7 L1364.8 635.9 Q1361 636.2 1363.2 633.2 L1369 629.3 L945 631.6 Z" fill="url(#ag)" stroke="url(#ag)" stroke-width="0.8" stroke-linejoin="round"/></svg>

  <div class="abs" style="left:1590px;top:55px;width:4.6px;height:561px;border-radius:3px;background:#c6c7c9"></div>

  <div id="fb" class="abs" style="left:1557.5px;top:372px;width:50px;height:146.3px;background:#d33600;border-radius:6px;box-shadow:0 1px 4px rgba(0,0,0,.25)">
    <div class="abs" style="left:-28.6px;top:45.4px;width:100px;height:24px;transform:rotate(-90deg);transform-origin:50% 50%;font-size:18.2px;line-height:24px;color:#fff;-webkit-text-stroke:.25px #fff;text-align:center;white-space:nowrap">Feedback</div>
    <svg class="abs" style="left:11.4px;top:111.5px" width="21" height="18" viewBox="0 0 21 18"><path d="M0.6 1.2 H18 Q19.4 1.2 19.4 2.6 V14.8 Q19.4 16.2 18 16.2 H4.8 Q3.4 16.2 3.4 14.8 V4.6 Z" fill="#fff"/><circle cx="8.2" cy="6.6" r="0.9" fill="#d33600"/><circle cx="14.0" cy="6.6" r="0.9" fill="#d33600"/><path d="M7.6 9.6 A3.6 3.6 0 0 0 14.6 9.6" fill="none" stroke="#d33600" stroke-width="1.1"/></svg>
  </div>

  <div id="chat" class="abs" style="left:1515px;top:818.5px;width:67px;height:67px;border-radius:50%;background:#2d3580;box-shadow:0 1px 8px rgba(0,0,0,.28)">
    <svg class="abs" style="left:0;top:0" width="67" height="67" viewBox="0 0 67 67"><path d="M23 17.5 Q37 15.5 50 17 Q52.5 27 50 37.5 Q48 38.8 45.8 38.6 L45.8 22 Q35 19 21.5 20.6 Z" fill="#fff"/><path d="M18.2 22.4 Q31.5 19.8 44.6 22.4 Q48 33 45 43.6 Q41 45.2 34.6 45.4 L30.9 50.8 L27.2 45.4 Q21.4 45.2 17.6 43.8 Q14.6 33 18.2 22.4 Z" fill="#fff" stroke="#2d3580" stroke-width="1.3"/></svg>
  </div>
</div>
</body>
</html>
